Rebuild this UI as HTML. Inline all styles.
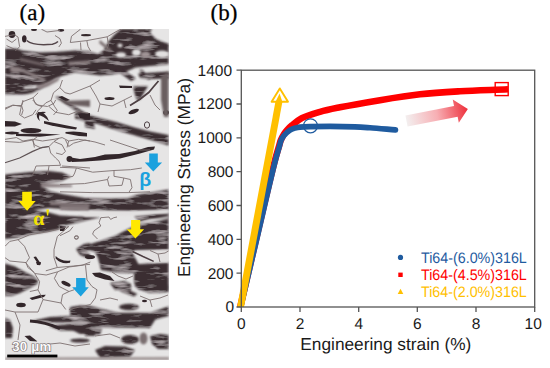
<!DOCTYPE html>
<html><head><meta charset="utf-8">
<style>
html,body{margin:0;padding:0;background:#fff;}
body{width:550px;height:368px;overflow:hidden;position:relative;}
svg{position:absolute;left:0;top:0;text-rendering:geometricPrecision;}
.sans{font-family:"Liberation Sans",sans-serif;}
.serif{font-family:"Liberation Serif",serif;}
</style></head><body>
<svg width="550" height="368" viewBox="0 0 550 368">
<defs>
<clipPath id="pc"><rect x="230" y="60" width="310" height="247"/></clipPath>
<clipPath id="mc"><rect x="5" y="29" width="164" height="331"/></clipPath>
<filter id="bl" x="-5%" y="-5%" width="110%" height="110%"><feGaussianBlur stdDeviation="0.9"/></filter>
<filter id="tex" x="5" y="29" width="164" height="331" filterUnits="userSpaceOnUse">
<feGaussianBlur in="SourceGraphic" stdDeviation="0.9" result="b"/>
<feTurbulence type="fractalNoise" baseFrequency="0.045 0.2" numOctaves="3" seed="11" result="n"/>
<feColorMatrix in="n" type="matrix" values="0 0 0 0 0.54  0 0 0 0 0.48  0 0 0 0 0.5  2.4 0 0 0 -1.2" result="st"/>
<feComposite in="st" in2="b" operator="in" result="st2"/>
<feMerge><feMergeNode in="b"/><feMergeNode in="st2"/></feMerge>
</filter>
<filter id="bl3" x="-5%" y="-5%" width="110%" height="110%"><feGaussianBlur stdDeviation="0.35"/></filter>
<filter id="bl4" x="-5%" y="-5%" width="110%" height="110%"><feGaussianBlur stdDeviation="0.65"/></filter>
<filter id="bl2" x="-5%" y="-5%" width="110%" height="110%"><feGaussianBlur stdDeviation="1.6"/></filter>
<linearGradient id="ag" x1="0" y1="0" x2="1" y2="0">
<stop offset="0" stop-color="#f3efef"/><stop offset="0.5" stop-color="#f7aeb3"/><stop offset="1" stop-color="#ee2f3b"/>
</linearGradient>
</defs>
<!-- panel labels -->
<text x="19.6" y="20.4" class="serif" font-size="23" fill="#000" stroke="#000" stroke-width="0.25">(a)</text>
<text x="210.6" y="20.4" class="serif" font-size="23" fill="#000" stroke="#000" stroke-width="0.25">(b)</text>

<!-- MICROGRAPH -->
<g clip-path="url(#mc)">
<rect x="5" y="29" width="164" height="331" fill="#e6e5e5"/>
<g fill="#3a2d31" filter="url(#tex)">
<!-- top spots -->
<!-- main dark band + center mass -->
<path d="M5,48.5 L16,48.5 L22,50.5 L40,52.5 L55,52 L62,51.5 L75,50.5 L88,51 L98,54 L104,50 L108,42 L114,35 L121,29 L152,29 L150,33 L157,40 L168.5,44 L168.5,64.5 L150.8,66 L135.6,67.5 L124,72.5 L112,74.5 L100,75.5 L88,74 L75,72.5 L62,76 L55,79 L48,84 L40,89 L32,93 L25,94.5 L5,94.5 Z"/>
<!-- top right arc -->
<path d="M136,32 Q150,39 168.5,46" fill="none" stroke="#3a2d31" stroke-width="3.5"/>
<!-- tile2 lower -->
<path d="M138,73.5 L169,71.5 L169,78.5 L150,79 L140,78 Z"/>
<path d="M115,69.5 L121,68 L136,78.5 L131,81 Z"/>
<path d="M139,70 L142,69.5 L151,79 L148,80 Z"/>
<path d="M133,86.5 L148,86 L145,91 L140,99.5 L136.5,99.5 L134.5,93 Z"/>
<!-- tile [0-90,100-150] -->
<path d="M75,112.5 L87,114.5 L101.5,118.3 L118,122.5 L134.6,127.5 L150,131.5 L168.5,135 L168.5,145.5 L146.4,138.7 L128,133.5 L111,128.5 L98,124 L87.3,122 L75,118.5 Z"/>
<path d="M55,97 L58.5,96.5 L89,115 L86,117.5 Z"/>
<!-- tile [85-175,110-160] -->
<path d="M85,120 L93,121 L95,129 L85,127 Z"/>
<!-- U-shaped streak y155-163 -->
<!-- big left band y172-239 -->
<path d="M5,174.5 L30,172 L49,171 L62,172.5 L71,176.5 L62,181 L50,183 L42,186 L50,191 L62,194 L85,198 L110,198.5 L128,198 L136,195 L168.5,189.4 L168.5,210.5 L130,211 L100,210.5 L70,209.5 L49,208 L33,210 L5,213 Z"/>
<path d="M5,212 L33,210 L49,212.6 L60,215.5 L80,216.5 L101,217 L80,222 L62,226 L58,229.5 L45,232 L33,234 L18,237.5 L5,239 Z"/>
<path d="M134,216 L150,213.5 L168.5,212.5 L168.5,219.5 L150,219 L140,221.5 Z"/>
<!-- big lower right dark -->
<path d="M81,247 L100,241 L115,236 L130,228 L142,223 L155,221 L168.5,219.5 L168.5,250 L135,250.5 L132,252 L139,265 L139,272.7 L120,273 L101,270 L98,258 L95,252 L88,250 Z"/>
<path d="M134,264.5 L168.5,262 L168.5,290 L140,290 L134,283 Z"/>
<path d="M110,283 L125,281 L131,284 L131,290 L115,290 Z"/>
<!-- tile [0-90,240-290] -->
<path d="M5,263.5 L15,266.5 L25,272 L33,276 L38,280 L37,284 L30,288 L20,293 L12,296 L5,296 Z"/>
<path d="M76,249 L84,244 L90,243 L90,250 L85,252 L90,254 L90,259 L80,255 Z"/>
<!-- tile [0-90,285-335] -->
<path d="M70,307 L80,305.5 L90,306 L117.7,312.8 L150.5,312.8 L168.5,306.3 L168.5,316 L150.5,321 L117.7,324.3 L100,323 L90,322.6 L60,322.5 L40,322.5 L33,320.5 L50,317 L70,316 Z"/>
<path d="M49,326 L70,324 L90,324 L90,331 L60,330.5 Z"/>
<path d="M5,318 L10,320 L13,328 L12,338 L5,338 Z"/>
<ellipse cx="80" cy="340.5" rx="10" ry="2"/>
<!-- tile [85-175,285-335] -->
<ellipse cx="130" cy="339.5" rx="9" ry="4.5"/>
<path d="M150,336 L160,334 L168.5,335 L168.5,349 L158,349 L152,344 Z"/>
<path d="M95,350 L105,346 L125,346.5 L135,350 L130,357 L100,358 Z"/>
<path d="M72,330 L85,328 L102,328.5 L100,334.5 L80,334 Z"/>

<path d="M134,285 L168.5,285 L168.5,292 L150,293 L138,289 Z"/>
<path d="M117.7,289 L125,288 L137.4,294 L134,296.5 L122,292 Z"/>
<ellipse cx="129" cy="307" rx="10" ry="3.3"/>
<path d="M85,321 L95,321 L95,336 L85,336 Z"/>
<path d="M85,319 L155,320 L150,328 L85,327 Z"/>
</g>
<g fill="#33272b" filter="url(#bl4)">
<ellipse cx="12" cy="34.5" rx="3.3" ry="3.4"/>
<ellipse cx="24.3" cy="38.8" rx="2.3" ry="3.6"/>
<ellipse cx="34" cy="29.8" rx="3" ry="1.3"/>
<ellipse cx="61" cy="30.3" rx="3.2" ry="1.4"/>
<ellipse cx="86" cy="35.2" rx="5" ry="1.1"/>
<path d="M119,85.5 L132,86 L132,88 L120,88 Z"/>
<ellipse cx="109.5" cy="98.6" rx="5" ry="1.5"/>
<ellipse cx="133.7" cy="111.5" rx="5.5" ry="2" transform="rotate(-20 133.7 111.5)"/>
<path d="M58,97 L62,96 L70,100 L66,101.5 Z"/>
<path d="M38,112 Q46,112 49,121 Q44,116.5 38,114.5 Z"/>
<path d="M5,121 L15,121.5 L22,124 L15,126.5 L5,126.5 Z"/>
<ellipse cx="31" cy="130.6" rx="10.5" ry="2.6"/>
<ellipse cx="12" cy="133" rx="7.5" ry="1.4"/>
<path d="M16,134 L40,133.5 L60.5,134.5 L40,136.8 L16,136 Z"/>
<path d="M44,121 Q60,124 77,127.5 L76,129.5 Q58,127.5 44,123.5 Z"/>
<path d="M65.5,132 Q76,130.5 87,133 L87,136.5 Q76,136 65.5,133.5 Z"/>
<path d="M37,113.5 Q40,111 46,112 Q44,114 40,114.5 Q38,117 40,121 Q36,118 37,113.5 Z"/>
<path d="M78,114 L90,113 L90,119.6 L80,118 Z"/>
<ellipse cx="166" cy="112.5" rx="3" ry="2.5"/>
<ellipse cx="69.5" cy="159" rx="3" ry="3"/>
<path d="M68,157 L80,159 L95,157 L105,154.5 L119,154 L135,151 L148,147 L155,146.5 L154,149.5 L140,153.5 L120,158.5 L100,160.5 L85,161.5 L72,162 Z"/>
<path d="M60,226 L66,226.5 L64,231 L60,231 Z"/>
<path d="M92,273 L100,272.5 L110,276 L114.5,281 L105,279.5 L95,276.5 Z"/>
<ellipse cx="90" cy="257" rx="5" ry="2"/>
<path d="M33.5,257 L36,256.5 L41,264 L39,265.5 Z"/>
<path d="M55.6,256 Q62,262 70.4,260.5 L70,262.8 Q61,264.5 55.6,258.5 Z"/>
<ellipse cx="66" cy="283.7" rx="5" ry="2" transform="rotate(25 66 283.7)"/>
<path d="M36,262 L41,262 L40,265 L37,265 Z"/>
<path d="M29.5,298 L40,295 L45.8,294.8 L44,297 L32,300 Z"/>
<ellipse cx="21" cy="305" rx="4.8" ry="2.2"/>
<path d="M24.5,336 L30,335.5 L37.6,341.5 L30,341 Z"/>
<path d="M30,321 Q45,322 60,328.5" fill="none" stroke="#33272b" stroke-width="3"/>
<ellipse cx="144.5" cy="301" rx="2.5" ry="1.3"/>
<path d="M130,105.5 Q140,100 149,92.3 Q154,86 158.5,81" fill="none" stroke="#4d3f43" stroke-width="1.8"/>
<ellipse cx="147" cy="125" rx="2.6" ry="3.2" fill="none" stroke="#4d3f43" stroke-width="1"/>
</g>
<g fill="#6b5f61" filter="url(#bl)">
<ellipse cx="143.5" cy="338.5" rx="4" ry="6" fill="#7a6e70"/>
<path d="M5,357.5 L169,357 L169,360 L5,360 Z" fill="#a09696"/>
<path d="M161,76 L168.5,72 L168.5,117 L164,117 L161,100 Z"/>

<path d="M62,101 L75,100.5 L90,100 L90,107 L80,106 L70,105 Z"/>
</g>
<!-- light spots inside dark -->
<g fill="#e2e0e0" filter="url(#bl)">
<ellipse cx="121" cy="55" rx="5" ry="2.8"/>
<ellipse cx="136.5" cy="52.5" rx="4.5" ry="3.5"/>
<ellipse cx="120" cy="45.5" rx="2.5" ry="2"/>
<ellipse cx="162" cy="54" rx="7" ry="3.5"/>
<path d="M136,251 L168.5,250 L168.5,262.5 L155,262.5 L141,258 L134,252.5 Z"/>
<path d="M23,86.5 L38,85 L36,88.5 L24,89 Z"/>
<path d="M80,211.5 L130,211.5 L168.5,209.8 L168.5,213.6 L130,215.5 L85,216.5 Z"/>
<path d="M139,223.6 L155,219 L168.5,216.2 L168.5,218.2 L155,221 L141,224.8 Z"/>
</g>
<g fill="#8c8082" filter="url(#bl)">
<ellipse cx="16" cy="70" rx="6" ry="3"/>
<path d="M10,65.5 L22,68.5 L46,79 L44,81.5 L22,72 L10,68.5 Z"/>
<path d="M68,62 L90,60.5 L91,63.5 L69,65.5 Z"/>
<path d="M36,86 L50,81 L60,77 L58,81 L48,86.5 L38,89.5 Z"/>
<path d="M20,58 L45,64 L44,66 L20,60.5 Z" fill="#7a6e70"/>
<path d="M100,40 L112,50 L110,52 L99,43 Z" fill="#7a6e70"/>
<ellipse cx="145.5" cy="54.5" rx="5" ry="3" fill="#a09496"/>
<path d="M41,183 L72,185 L72,187 L41,187.5 Z"/>
<path d="M60,206 L89,206.5 L89,210.5 L60,210 Z"/>
<path d="M50,202 L90,204 L90,206 L50,205 Z"/>
</g>
<g fill="none" stroke="#7d7070" stroke-width="0.9" stroke-linejoin="round" filter="url(#bl3)">
<!-- top strip -->
<polyline points="4.9,36.4 14.2,34.7 18,37 19.6,46.7 15.3,51"/>
<polyline points="6.5,39 12,42.4 16.4,39"/>
<polyline points="6.5,45.6 14.2,49"/>
<polyline points="41.5,29.3 47,32 60,30.4"/>
<path d="M26.7,40.5 Q33,46 52.4,44.2 Q56,43.5 58,41.5" stroke="#54474b" stroke-width="1.5"/>
<polyline points="80.5,29.2 71.5,36.2 70.3,42.5"/>
<polyline points="55,35.5 60,38.7 61.4,43.2 58.8,47"/>
<polyline points="70.3,42.5 86.8,40.6 107.2,36.8 116,31.7 121,29.2"/>
<polyline points="80.5,42.5 81,50"/>
<polyline points="86.8,40.6 88,46.4 90.6,51"/>
<polyline points="107.2,36.8 108.5,45 106,51.5"/>
<!-- below dark band -->
<polyline points="5,109.3 12.7,105.5 21.6,105.5 23,101.6 33,97.8 38.2,92.7"/>
<polyline points="21.6,105.5 23,110.5 21.6,115"/>
<polyline points="33,97.8 35.6,104.2 42,106.7 45.8,102.9 51,100.4"/>
<polyline points="42,106.7 38.2,110.5 35.6,115"/>
<polyline points="51,100.4 53.5,92.7 59.8,87.6 62.4,80"/>
<polyline points="51,100.4 54.7,106.7 57.3,110.5 53.5,115"/>
<polyline points="59.8,87.6 65,92.7 70,94 80,90 90,86 100,80"/>
<polyline points="90,86 96,96 100,104 112,106 124,100 132,96"/>
<polyline points="100,104 98,112"/>
<polyline points="124,100 126,108"/>
<polyline points="150,95 155,105 160,110"/>
<polyline points="5,108.2 13,105 21.3,106.5 23,100"/>
<polyline points="21.3,106.5 19.6,114.7 24.5,118 32.7,114.7 36,109.8"/>
<polyline points="32.7,100 37.6,105 47.5,106.5 54,103.3 55.6,100"/>
<polyline points="49,106.5 55.6,112.3 68.7,114.7 77,111.5 88.4,113"/>
<polyline points="5,139.3 16.4,137.6 23,141 32.7,139.3 42.5,141 54,139.3 62.2,137.6 68.7,141 78.5,139.3 90,141"/>
<polyline points="32.7,139.3 34.4,147.5"/>
<polyline points="68.7,141 67,147.5"/>
<!-- middle light -->
<polyline points="5,141.5 19.6,142.4 32.7,140 37.6,136.6"/>
<polyline points="32.7,140 34.4,144.8 41,148 49,146.5 54,141.5 59,138.3"/>
<polyline points="5,162.8 19.6,158 32.7,151.4 42.5,147.3 49,146.5" stroke="#5e5254" stroke-width="1.2"/>
<polyline points="49,146.5 50.7,153 55.6,158 59,161.2 60.5,165.3"/>
<polyline points="54,141.5 62,144.8 65.5,151.4 62,154.6 56,153"/>
<polyline points="65.5,140 68.7,146.5 73.6,143.2 85,140 95,142 105,145"/>
<polyline points="60.5,165.3 36,166 32.7,175"/>
<polyline points="62,166 77,167 90,168"/>
<polyline points="49,166 47.5,175"/>
<polyline points="110,140 125,145 140,150 150,150"/>
<polyline points="60,167.3 76.4,168 92.7,172.2 114,170.5 130.4,169.7 141.8,168"/>
<polyline points="76.4,168 74.7,173 73,176.3 63.3,178"/>
<polyline points="109,176.3 107.5,179.5 109,186 122,185.3 123.8,178 114,176.3"/>
<polyline points="123.8,178 130.4,179.5 132,187.7 128.7,192.6"/>
<polyline points="114,170.5 114,176.3"/>
<polyline points="60,184.5 84.5,183.6 107.5,179.5"/>
<polyline points="60,191.8 92.7,192.6 128.7,192.6 150,191.8"/>
<!-- lens 85-142,214-240 -->
<polyline points="100.8,217.7 99,222.6 100.8,226 94,230.8 92.6,234 97.5,239"/>
<polyline points="100.8,217.7 109,217 110.6,219.4 113.8,217.7 117,217"/>
<polyline points="60,235.7 69.8,230.8 73,226.7"/>
<ellipse cx="76.3" cy="237.7" rx="1.8" ry="1.5"/>
<polyline points="132.5,251.5 143,256.5 153.7,261.3" stroke="#4d3f43" stroke-width="1.4"/>
<polyline points="150,250.5 158,254 165,253 168.5,251"/>
<polyline points="158,254 160,262"/>
<polyline points="112,272 118,276 126,279 133,276"/>
<!-- lower-left light -->
<polyline points="5,246.3 9.8,241.4 18,239.7 24.5,246.3 29.5,257.7 26.2,262.6 9.8,261 5,257.7"/>
<polyline points="18,239.7 29.5,234.8 49,231.5 68.7,226.6"/>
<polyline points="68.7,226.6 57.3,236.5 54,249.5 54,257.7 57.3,267.5"/>
<polyline points="26.2,262.6 27.8,267.5 34.4,272.5"/>
<polyline points="45.8,270.8 57.3,267.5 73.6,266 90,264.3"/>
<ellipse cx="76.5" cy="237.3" rx="2" ry="1.7"/>
<polyline points="25,262 34.7,273.5 46.2,275 57.6,271.8 69,267 82,265.3 90.4,262"/>
<polyline points="34.7,273.5 39.6,281.6 38,289.8 29.8,291.5"/>
<polyline points="57.6,271.8 54.4,278.4 59.3,286.5 69,291.5 74,289.8"/>
<polyline points="69,291.5 62.5,294.7 61,303 65.8,309.5"/>
<polyline points="87,280 92,286.5 97,289.8 95.3,298 90.4,304.5"/>
<polyline points="85.5,265.3 87,280"/>
<polyline points="38,289.8 43,299.6 38,312"/>
<polyline points="43,299.6 61,303"/>
<polyline points="90.4,304.5 69,309.5"/>
<polyline points="5,310 15,312 28,312 38,312"/>
<polyline points="15,312 20,325 18,340"/>
<polyline points="100,300 110,298 118,300"/>
<polyline points="140,296 150,300 160,298 168,295"/>
<polyline points="150,300 152,307"/>
<polyline points="95,336 110,334 120,338"/>
<polyline points="40,345 60,343 75,346 90,344"/>
</g>
<!-- arrows & labels -->
<g fill="#ffe800">
<path d="M22.2,191.7 L31.8,191.7 L31.8,200.9 L35.7,200.9 L27.1,210.7 L18.3,200.9 L22.2,200.9 Z"/>
<path d="M131.1,220 L140.2,220 L140.2,229.3 L144.1,229.3 L135.4,238.5 L126.7,229.3 L131.1,229.3 Z"/>
</g>
<g fill="#1ba1de">
<path d="M149.2,153.4 L157.8,153.4 L157.8,162.4 L162.1,162.4 L153.3,171.5 L144.8,162.4 L149.2,162.4 Z"/>
<path d="M76.1,278 L85.5,278 L85.5,287.3 L88.8,287.3 L80.7,296.5 L72.2,287.3 L76.1,287.3 Z"/>
</g>
<text x="33.2" y="224.8" class="serif" font-size="20" font-weight="bold" fill="#f2e200">α</text>
<path d="M46.3,209.6 L49,209.6 L48.2,215.6 L47,215.6 Z" fill="#f2e200"/>
<text x="139.3" y="186" class="sans" font-size="19.5" font-weight="bold" fill="#1ba1de">β</text>
<rect x="7.2" y="354.6" width="50.2" height="2.8" fill="#000"/>
<text x="12.3" y="351.2" class="sans" font-size="13.2" font-weight="bold" fill="#fbfbfb" stroke="#7a7070" stroke-width="1.3" paint-order="stroke" letter-spacing="0.2">30 μm</text>
</g>

<!-- CHART -->
<g id="chart">
<!-- gradient arrow -->
<g transform="translate(406.5,121) rotate(-11)">
<path d="M0,-5.6 L49.5,-5.6 L49.5,-12.3 L62.5,0 L51,11.8 L51,5.6 L0,5.6 Z" fill="url(#ag)"/>
</g>
<g clip-path="url(#pc)">
<!-- red -->
<path d="M240.0,308.0 C246.0,282.3 252.1,256.0 258.0,231.0 C263.6,207.4 270.5,177.0 274.5,162.0 C276.4,154.6 278.0,149.6 279.2,145.6 C279.9,143.3 280.1,141.9 280.8,140.2 C281.5,138.5 282.2,137.0 283.2,135.4 C284.2,133.7 285.4,132.0 286.8,130.4 C288.3,128.7 289.8,127.1 291.9,125.4 C294.6,123.1 297.8,120.2 301.8,118.1 C306.8,115.5 313.7,113.6 320.0,111.8 C326.5,110.0 332.2,108.9 340.0,107.3 C351.0,105.1 366.7,102.4 380.0,100.2 C393.3,98.0 406.6,95.8 420.0,94.3 C433.3,92.8 446.1,92.1 460.0,91.3 C475.3,90.4 492.0,90.0 508.0,89.3" fill="none" stroke="#ff0000" stroke-width="6.6"/>
<rect x="495.2" y="82.6" width="13" height="13" fill="none" stroke="#ff0000" stroke-width="1.4"/>
<!-- blue -->
<path d="M240.5,308.0 C246.3,283.3 252.2,258.7 258.0,234.0 C263.8,209.3 271.6,174.9 275.5,160.0 C277.2,153.5 278.5,149.6 279.5,146.0 C280.2,143.7 280.3,142.2 281.1,140.4 C281.8,138.7 282.7,137.1 284.0,135.5 C285.5,133.7 287.6,131.7 289.6,130.4 C291.3,129.3 293.2,128.7 295.0,128.1 C296.7,127.6 298.0,127.3 300.0,127.1 C302.8,126.8 306.1,126.7 310.0,126.6 C315.5,126.4 323.0,126.4 330.0,126.4 C337.9,126.4 347.7,126.6 355.0,126.9 C360.6,127.1 364.3,127.4 370.0,127.8 C377.4,128.3 387.0,129.2 395.5,129.9" fill="none" stroke="#1f5b9f" stroke-width="5.6" stroke-linecap="round"/>
<circle cx="310.5" cy="125.8" r="7" fill="none" stroke="#1f5b9f" stroke-width="1.2"/>
<!-- yellow -->
<path d="M279.8,88.4 L288,101.7 L271.6,101.7 Z" fill="#fff" stroke="#ffc000" stroke-width="1.9" stroke-linejoin="round"/>
<path d="M236.9,308 L243.9,308 L282.4,102 L279.6,93.5 L275.4,102 Z" fill="#ffc000"/>
</g>
<!-- frame -->
<g stroke="#555" stroke-width="1.3" fill="none">
<rect x="241.3" y="70.2" width="293.4" height="236.8"/>
<path d="M236.5,70.2H241.3M236.5,104H241.3M236.5,137.9H241.3M236.5,171.7H241.3M236.5,205.5H241.3M236.5,239.4H241.3M236.5,273.2H241.3M236.5,307H241.3"/>
<path d="M241.3,307V312M300,307V312M358.7,307V312M417.3,307V312M476,307V312M534.7,307V312"/>
</g>
<g class="sans" font-size="15.5" fill="#1a1a1a" text-anchor="end">
<text transform="translate(232,75.6)">1400</text>
<text transform="translate(232,109.4)">1200</text>
<text transform="translate(232,143.3)">1000</text>
<text transform="translate(233.5,177.1)">800</text>
<text transform="translate(233.5,210.9)">600</text>
<text transform="translate(233.5,244.8)">400</text>
<text transform="translate(233.5,278.6)">200</text>
<text transform="translate(234.2,312.4)">0</text>
</g>
<g class="sans" font-size="15.5" fill="#1a1a1a" text-anchor="middle">
<text transform="translate(241.3,329)">0</text>
<text transform="translate(300,329)">2</text>
<text transform="translate(358.7,329)">4</text>
<text transform="translate(417.3,329)">6</text>
<text transform="translate(476,329)">8</text>
<text transform="translate(533.2,329)">10</text>
</g>
<text x="385.8" y="349.7" class="sans" font-size="17.3" fill="#1a1a1a" text-anchor="middle">Engineering strain (%)</text>
<text transform="translate(190,177.5) rotate(-90)" class="sans" font-size="17.4" fill="#1a1a1a" text-anchor="middle">Engineering Stress (MPa)</text>
<!-- legend -->
<circle cx="400.5" cy="257.4" r="2.6" fill="#1f5b9f"/>
<rect x="398.3" y="272.6" width="4.4" height="4.4" fill="#ff0000"/>
<path d="M400.5,288.8 L403.3,294 L397.7,294 Z" fill="#ffc000"/>
<g class="sans" font-size="15.2">
<text transform="translate(421,262.5) scale(0.94,1)" fill="#1f5b9f">Ti64-(6.0%)316L</text>
<text transform="translate(421,279.8) scale(0.94,1)" fill="#ff0000">Ti64-(4.5%)316L</text>
<text transform="translate(421,297.2) scale(0.94,1)" fill="#ffc000">Ti64-(2.0%)316L</text>
</g>
</g>
</svg>
</body></html>
